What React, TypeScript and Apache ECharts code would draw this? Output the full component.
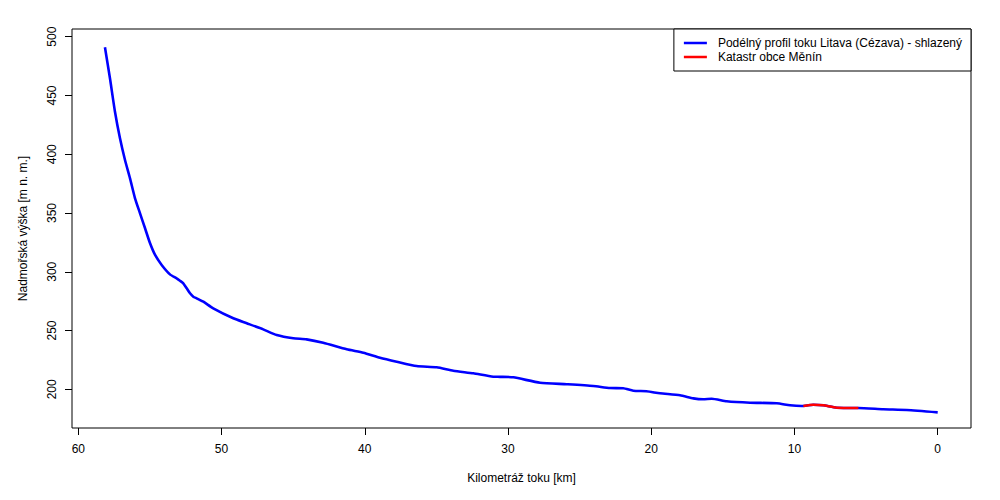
import React, { useEffect, useRef } from "react";
import * as echarts from "echarts";

const FONT = "'Liberation Sans', Arial, Helvetica, sans-serif";

const seriesNames = [
  "Podélný profil toku Litava (Cézava) - shlazený",
  "Katastr obce Měnín",
];

const xTicks = [60, 50, 40, 30, 20, 10, 0];
const yTicks = [200, 250, 300, 350, 400, 450, 500];

// [km, m n. m.]
const profileKm = [
  58.14, 57.79, 57.44, 57.09, 56.74, 56.39, 56.04, 55.69, 55.34, 54.99,
  54.64, 54.18, 53.6, 53.13, 52.9, 52.67, 52.43, 52.2, 51.97, 51.74,
  51.27, 50.58, 49.18, 48.24, 47.09, 46.15, 44.99, 44.06, 42.9, 41.26,
  40.1, 38.94, 37.77, 36.38, 34.98, 33.82, 32.42, 31.03, 30.56, 29.63,
  27.76, 25.9, 24.05, 22.88, 21.95, 21.25, 20.32, 19.39, 17.99, 17.06,
  16.37, 15.78, 14.73, 13.1, 11.24, 10.31, 9.5, 9.38, 8.69, 7.99,
  7.05, 5.66, 5.54, 3.8, 2.16, 0,
];
const profileAlt = [
  491.0, 464.6, 436.2, 413.6, 395.1, 379.5, 362.5, 349.7, 337.0, 324.2,
  314.3, 305.8, 297.8, 294.4, 292.4, 290.2, 285.9, 281.7, 278.8, 277.4,
  274.5, 268.9, 260.4, 256.2, 251.0, 246.2, 243.4, 242.5, 239.6, 234.0,
  231.1, 226.9, 223.5, 219.8, 218.7, 215.8, 213.6, 210.7, 210.6, 210.2,
  205.6, 204.3, 202.8, 201.1, 200.9, 198.8, 198.3, 196.6, 194.9, 192.3,
  191.5, 192.0, 189.8, 188.6, 188.1, 186.4, 185.8, 185.8, 186.9, 186.4,
  184.3, 184.1, 184.1, 183.0, 182.4, 180.4,
];

const menKm = [9.38, 8.69, 7.99, 7.05, 5.66, 5.54];
const menAlt = [185.8, 186.9, 186.4, 184.3, 184.1, 184.1];

const zip = (a: number[], b: number[]) => a.map((v, i) => [v, b[i]]);

// legend icon: a 23x12 box holding a 2.6px-high bar in its middle
const LINE_ICON =
  "path://M0,0h0.01v0.01h-0.01z M0,4.7h23v2.6h-23z M22.99,11.99h0.01v0.01h-0.01z";

export default function App() {
  const ref = useRef<HTMLDivElement>(null);
  useEffect(() => {
    if (!ref.current) return;
    const chart = echarts.init(ref.current, undefined, { renderer: "svg" });
    chart.setOption({
      animation: false,
      backgroundColor: "#ffffff",
      textStyle: { fontFamily: FONT, color: "#000" },
      grid: {
        left: 72,
        right: 29,
        top: 29,
        bottom: 72,
        show: true,
        borderColor: "#000",
        borderWidth: 1,
        backgroundColor: "transparent",
        containLabel: false,
        outerBoundsMode: "none",
      },
      legend: {
        orient: "vertical",
        right: 29,
        top: 29,
        padding: [8, 9, 8, 10],
        itemGap: 2,
        itemWidth: 23,
        itemHeight: 12,
        icon: LINE_ICON,
        borderColor: "#000",
        borderWidth: 1,
        borderRadius: 0,
        backgroundColor: "#fff",
        selectedMode: false,
        data: seriesNames.map((n) => ({ name: n, icon: LINE_ICON })),
        textStyle: {
          fontFamily: FONT,
          fontSize: 12,
          color: "#000",
          lineHeight: 12,
          padding: [0, 0, 0, 6],
        },
      },
      xAxis: {
        type: "value",
        inverse: true,
        min: -2.325,
        max: 60.44,
        name: "Kilometráž toku [km]",
        nameLocation: "middle",
        nameGap: 44,
        nameTextStyle: { fontFamily: FONT, fontSize: 12, color: "#000" },
        splitLine: { show: false },
        axisLine: { show: false, onZero: false },
        axisTick: {
          show: true,
          inside: false,
          length: 7,
          customValues: xTicks,
          lineStyle: { color: "#000", width: 1 },
        },
        axisLabel: {
          show: true,
          margin: 15,
          customValues: xTicks,
          fontFamily: FONT,
          fontSize: 12,
          color: "#000",
          showMinLabel: true,
          showMaxLabel: true,
        },
      },
      yAxis: {
        type: "value",
        min: 167.07,
        max: 506.55,
        name: "Nadmořská výška [m n. m.]",
        nameLocation: "middle",
        nameGap: 43,
        nameTextStyle: { fontFamily: FONT, fontSize: 12, color: "#000" },
        splitLine: { show: false },
        axisLine: { show: false, onZero: false },
        axisTick: {
          show: true,
          inside: false,
          length: 7,
          customValues: yTicks,
          lineStyle: { color: "#000", width: 1 },
        },
        axisLabel: {
          show: true,
          rotate: 90,
          margin: 14,
          customValues: yTicks,
          fontFamily: FONT,
          fontSize: 12,
          color: "#000",
          showMinLabel: true,
          showMaxLabel: true,
        },
      },
      series: [
        {
          name: seriesNames[0],
          type: "line",
          data: zip(profileKm, profileAlt),
          showSymbol: false,
          symbol: "none",
          smooth: 0.2,
          color: "#0000ff",
          lineStyle: { color: "#0000ff", width: 2.6 },
          z: 2,
        },
        {
          name: seriesNames[1],
          type: "line",
          data: zip(menKm, menAlt),
          showSymbol: false,
          symbol: "none",
          smooth: 0.2,
          color: "#ff0000",
          lineStyle: { color: "#ff0000", width: 2.6 },
          z: 3,
        },
      ],
    });
    return () => chart.dispose();
  }, []);
  return (
    <div
      ref={ref}
      style={{ position: "fixed", left: 0, top: 0, width: 1000, height: 500 }}
    />
  );
}
